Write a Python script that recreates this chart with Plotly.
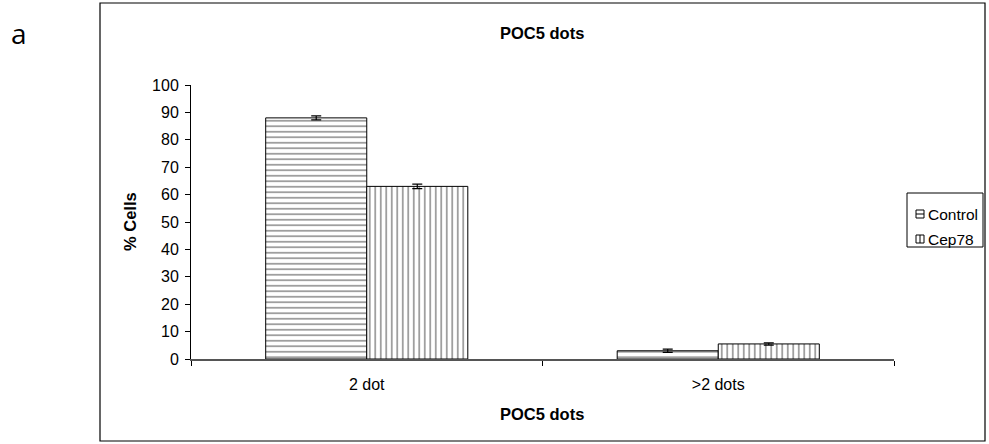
import plotly.graph_objects as go

categories = ["2 dot", ">2 dots"]
control_vals = [88.0, 3.0]
control_err = [0.7, 0.6]
cep78_vals = [63.0, 5.5]
cep78_err = [0.8, 0.4]
series_names = ["Control", "Cep78"]

FONT = "Liberation Sans, Arial, sans-serif"

W, H = 989, 444
L, R, T, B = 191, 95, 85, 85
PW, PH = W - L - R, H - T - B


def px(x):  # reference pixel x -> paper
    return (x - L) / PW


def py(y):  # reference pixel y -> paper
    return (H - B - y) / PH


fig = go.Figure()
fig.add_trace(go.Bar(
    name=series_names[0], x=categories, y=control_vals, showlegend=False,
    marker=dict(color="white", line=dict(color="black", width=1),
                pattern=dict(shape="-", size=5.5, solidity=0.25, fgcolor="black", bgcolor="white")),
    error_y=dict(type="data", array=control_err, color="black", thickness=1.2, width=5),
))
fig.add_trace(go.Bar(
    name=series_names[1], x=categories, y=cep78_vals, showlegend=False,
    marker=dict(color="white", line=dict(color="black", width=1),
                pattern=dict(shape="|", size=5.5, solidity=0.25, fgcolor="black", bgcolor="white")),
    error_y=dict(type="data", array=cep78_err, color="black", thickness=1.2, width=5),
))

shapes = [
    # outer frame
    dict(type="rect", xref="paper", yref="paper", x0=px(100), x1=px(985), y0=py(441), y1=py(3),
         line=dict(color="black", width=1.2), fillcolor="rgba(0,0,0,0)", layer="below"),
    # legend box
    dict(type="rect", xref="paper", yref="paper", x0=px(907), x1=px(983), y0=py(247), y1=py(193),
         line=dict(color="black", width=1), fillcolor="white"),
]
annotations = []
legend_y = [214, 239]
for i, name in enumerate(series_names):
    cy = legend_y[i]
    shapes.append(dict(type="rect", xref="paper", yref="paper", x0=px(916), x1=px(924),
                       y0=py(cy + 4), y1=py(cy - 4), line=dict(color="black", width=1),
                       fillcolor="white"))
    if i == 0:
        shapes.append(dict(type="line", xref="paper", yref="paper", x0=px(916), x1=px(924),
                           y0=py(cy), y1=py(cy), line=dict(color="black", width=1)))
    else:
        shapes.append(dict(type="line", xref="paper", yref="paper", x0=px(920), x1=px(920),
                           y0=py(cy + 4), y1=py(cy - 4), line=dict(color="black", width=1)))
    annotations.append(dict(text=name, xref="paper", yref="paper", x=px(926), y=py(cy),
                            xanchor="left", yanchor="middle", showarrow=False,
                            font=dict(size=15.5, family=FONT)))

annotations += [
    dict(text="<b>POC5 dots</b>", xref="paper", yref="paper", x=px(542), y=py(33),
         xanchor="center", yanchor="middle", showarrow=False, font=dict(size=16.5, family=FONT)),
    dict(text="<b>POC5 dots</b>", xref="paper", yref="paper", x=px(542), y=py(414),
         xanchor="center", yanchor="middle", showarrow=False, font=dict(size=16.5, family=FONT)),
    dict(text="<b>% Cells</b>", xref="paper", yref="paper", x=px(130), y=py(222), textangle=-90,
         xanchor="center", yanchor="middle", showarrow=False, font=dict(size=16.5, family=FONT)),
    dict(text="a", xref="paper", yref="paper", x=px(19), y=py(33),
         xanchor="center", yanchor="middle", showarrow=False,
         font=dict(size=28, family="Open Sans, sans-serif")),
]

fig.update_layout(
    width=W, height=H,
    margin=dict(l=L, r=R, t=T, b=B, autoexpand=False),
    paper_bgcolor="white", plot_bgcolor="white",
    font=dict(family=FONT, size=16, color="black"),
    barmode="group", bargap=0.425, bargroupgap=0,
    showlegend=False,
    xaxis=dict(
        showline=True, linecolor="#555555", linewidth=2,
        ticks="outside", tickson="boundaries", ticklen=5, tickcolor="black",
        showgrid=False, tickfont=dict(size=16), zeroline=False, ticklabelstandoff=10,
    ),
    yaxis=dict(
        range=[0, 100], dtick=10, showline=True, linecolor="black", linewidth=1,
        ticks="outside", ticklen=5, tickcolor="black", showgrid=False,
        zeroline=False, tickfont=dict(size=16), ticklabelstandoff=3,
    ),
    shapes=shapes,
    annotations=annotations,
)

fig.write_html(
    "out.html",
    config={"displayModeBar": False},
    post_script="document.body.style.margin='0';document.body.style.overflow='hidden';",
)
